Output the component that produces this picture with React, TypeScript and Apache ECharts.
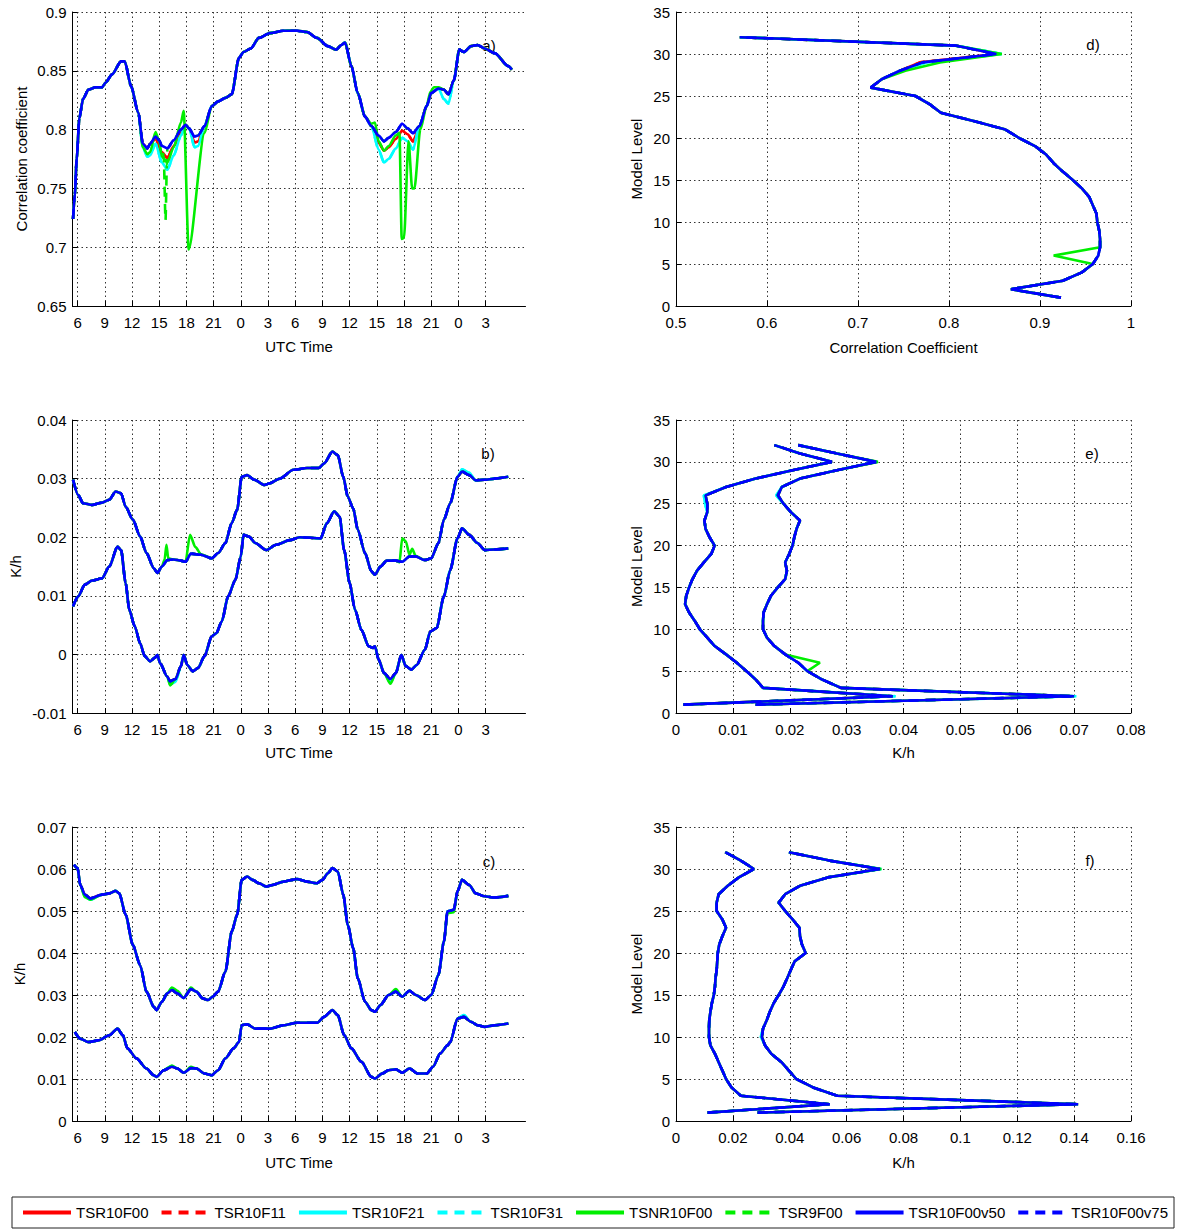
import React, { useEffect, useRef } from "react";
import * as echarts from "echarts";

type Pt = [number, number];

const FONT = "'Liberation Sans', Arial, Helvetica, sans-serif";

// ---------- series identity ----------
const SERIES_NAMES = ["TSR10F00", "TSR10F11", "TSR10F21", "TSR10F31", "TSNR10F00", "TSR9F00", "TSR10F00v50", "TSR10F00v75"];
const SERIES_COLORS = ["#ff0000", "#ff0000", "#00ffff", "#00ffff", "#00ee00", "#00ee00", "#0000ff", "#0000ff"];
const SERIES_DASHED = [false, true, false, true, false, true, false, true];

// ---------- axes ----------
const TIME_TICKS = [6, 9, 12, 15, 18, 21, 24, 27, 30, 33, 36, 39, 42, 45, 48, 51];
const TIME_TICK_LABELS = ["6", "9", "12", "15", "18", "21", "0", "3", "6", "9", "12", "15", "18", "21", "0", "3"];
const LEVELS = [1, 2, 3, 4, 5, 6, 7, 8, 9, 10, 11, 12, 13, 14, 15, 16, 17, 18, 19, 20, 21, 22, 23, 24, 25, 26, 27, 28, 29, 30, 31, 32];

// ---------- panel a: correlation coefficient vs time ----------
const A_BLUE: Pt[] = [
  [5.5, 0.724], [5.7, 0.745], [5.9, 0.775], [6.2, 0.81], [6.6, 0.826], [7.2, 0.834], [8.0, 0.836], [8.7, 0.836],
  [9.1, 0.84], [9.8, 0.847], [10.8, 0.858], [11.2, 0.858], [11.9, 0.837], [12.7, 0.814], [13.2, 0.788], [13.7, 0.784],
  [14.0, 0.788], [14.6, 0.794], [15.0, 0.791], [15.3, 0.786], [15.9, 0.784], [16.6, 0.791], [17.4, 0.8], [17.9, 0.804],
  [18.3, 0.801], [18.9, 0.794], [19.3, 0.795], [20.0, 0.803], [20.8, 0.82], [21.5, 0.824], [22.3, 0.827], [23.0, 0.83],
  [23.8, 0.861], [24.3, 0.866], [25.1, 0.869], [26.0, 0.878], [27.2, 0.882], [28.7, 0.884], [30.2, 0.884], [31.3, 0.883],
  [32.4, 0.878], [33.6, 0.871], [34.5, 0.868], [35.1, 0.872], [35.5, 0.874], [36.2, 0.854], [36.9, 0.831], [37.7, 0.811],
  [38.4, 0.803], [39.2, 0.795], [39.8, 0.79], [40.3, 0.793], [41.1, 0.798], [41.8, 0.805], [42.4, 0.801], [43.0, 0.797],
  [43.7, 0.803], [44.5, 0.82], [45.0, 0.831], [45.8, 0.835], [46.4, 0.834], [46.9, 0.83], [47.5, 0.842], [48.1, 0.868],
  [48.6, 0.866], [49.4, 0.871], [50.1, 0.872], [50.9, 0.869], [52.0, 0.865], [53.5, 0.854], [53.9, 0.851],
];
const A_RED_SEGS: Pt[][] = [
  [[14.6, 0.792], [15.3, 0.781], [15.9, 0.776], [16.6, 0.786], [17.4, 0.797]],
  [[18.9, 0.789], [19.3, 0.79]],
  [[39.2, 0.789], [39.8, 0.782], [40.3, 0.785], [41.1, 0.792], [41.8, 0.799], [42.4, 0.796], [43.0, 0.79]],
];
const A_CYAN_SEGS: Pt[][] = [
  [[13.2, 0.785], [13.7, 0.777], [14.0, 0.778], [14.6, 0.788], [15.3, 0.772], [15.9, 0.766], [16.6, 0.778], [17.4, 0.795]],
  [[18.9, 0.785], [19.3, 0.786]],
  [[39.2, 0.783], [39.8, 0.772], [40.3, 0.775], [41.1, 0.784], [41.8, 0.793], [42.4, 0.79], [43.0, 0.783]],
  [[46.4, 0.826], [46.9, 0.822]],
];
const A_GREEN_SEGS: Pt[][] = [
  [[13.2, 0.785], [13.7, 0.779], [14.0, 0.781], [14.6, 0.798], [15.0, 0.79], [15.3, 0.777], [15.9, 0.772], [16.6, 0.785]],
  [[17.4, 0.806], [17.7, 0.816], [18.25, 0.698], [20.0, 0.797]],
  [[38.4, 0.805], [38.8, 0.806], [39.2, 0.79], [39.8, 0.782], [40.3, 0.786], [41.1, 0.795]],
  [[41.5, 0.797], [41.75, 0.707], [42.0, 0.708], [42.5, 0.79], [42.9, 0.75], [43.15, 0.75], [43.8, 0.8]],
  [[44.9, 0.832], [45.3, 0.836], [45.8, 0.836]],
];
const A_GREEN_DASH_SEGS: Pt[][] = [
  [[15.5, 0.778], [15.7, 0.723], [15.85, 0.77]],
];

// ---------- panel b: K/h vs time (two curves) ----------
const B_UP_BLUE: Pt[] = [
  [5.5, 0.0298], [6.07, 0.0272], [6.6, 0.0258], [7.6, 0.0255], [8.7, 0.0259], [9.5, 0.0264], [10.2, 0.0278], [10.8, 0.0275],
  [11.3, 0.0252], [12.1, 0.023], [12.9, 0.0201], [13.6, 0.0173], [14.4, 0.0147], [14.8, 0.0139], [15.3, 0.015], [15.9, 0.0161],
  [16.6, 0.0162], [17.4, 0.016], [17.9, 0.0158], [18.5, 0.0172], [19.6, 0.017], [20.8, 0.0164], [21.5, 0.0173], [22.3, 0.019],
  [23.0, 0.0224], [23.6, 0.0247], [24.1, 0.0303], [24.7, 0.0306], [25.5, 0.0298], [26.6, 0.0289], [27.2, 0.0292], [28.3, 0.03],
  [29.8, 0.0315], [31.3, 0.0318], [32.6, 0.0318], [33.2, 0.0326], [34.1, 0.0346], [34.7, 0.034], [35.3, 0.0303], [35.8, 0.0269],
  [36.4, 0.0249], [36.9, 0.0213], [37.7, 0.0173], [38.4, 0.0142], [38.8, 0.0136], [39.4, 0.015], [40.1, 0.016], [41.1, 0.016],
  [41.8, 0.0158], [42.6, 0.0167], [43.3, 0.0167], [44.3, 0.0161], [45.0, 0.0164], [45.8, 0.019], [46.4, 0.023], [47.1, 0.0258],
  [47.9, 0.0303], [48.4, 0.0312], [49.2, 0.0306], [49.9, 0.0297], [50.9, 0.0298], [52.0, 0.03], [53.5, 0.0303],
];
const B_LOW_BLUE: Pt[] = [
  [5.5, 0.0082], [6.07, 0.0099], [6.8, 0.0119], [7.6, 0.0126], [8.7, 0.013], [9.5, 0.015], [10.4, 0.0184], [10.8, 0.0178],
  [11.3, 0.0122], [11.7, 0.0076], [12.3, 0.0048], [12.9, 0.0019], [13.4, -0.0003], [14.0, -0.0012], [14.5, -0.0006], [14.8, -0.0001],
  [15.1, -0.0015], [15.9, -0.0038], [16.2, -0.0046], [16.8, -0.0042], [17.4, -0.002], [17.7, -0.0001], [18.1, -0.0018], [18.7, -0.0029],
  [19.3, -0.0023], [20.0, -0.0003], [20.8, 0.0031], [21.3, 0.0036], [21.9, 0.0056], [22.6, 0.0099], [23.4, 0.0127], [24.0, 0.0167],
  [24.3, 0.0204], [24.9, 0.0201], [25.6, 0.019], [26.8, 0.0178], [27.9, 0.0187], [29.4, 0.0195], [30.5, 0.02], [32.8, 0.0198],
  [33.5, 0.0224], [34.3, 0.0244], [34.9, 0.0235], [35.4, 0.0178], [36.0, 0.0122], [36.6, 0.0076], [37.3, 0.0042], [38.1, 0.0014],
  [38.6, 0.0011], [38.8, 0.0014], [39.2, -0.0009], [39.8, -0.0032], [40.5, -0.0042], [41.1, -0.0032], [41.7, -0.0001], [42.2, -0.002],
  [42.8, -0.0026], [43.4, -0.0018], [44.3, 0.0008], [44.9, 0.0039], [45.6, 0.0045], [46.4, 0.0099], [47.1, 0.0144], [47.9, 0.0198],
  [48.4, 0.0215], [49.2, 0.0204], [50.1, 0.019], [50.9, 0.0178], [52.0, 0.0179], [53.5, 0.0181],
];
const B_UP_GREEN_SEGS: Pt[][] = [
  [[15.6, 0.0162], [15.8, 0.0187], [16.0, 0.0164]],
  [[17.9, 0.0158], [18.4, 0.0204], [19.0, 0.0183], [19.6, 0.0171]],
  [[41.5, 0.0157], [41.8, 0.0198], [42.2, 0.0193], [42.6, 0.017], [42.9, 0.018], [43.3, 0.0168]],
];
const B_UP_CYAN_SEGS: Pt[][] = [[[48.4, 0.0316], [49.2, 0.031]]];
const B_LOW_GREEN_SEGS: Pt[][] = [[[16.2, -0.0053]], [[40.5, -0.005]]];
const B_LOW_CYAN_SEGS: Pt[][] = [[[16.2, -0.0051], [16.8, -0.0047]], [[40.5, -0.0048]]];

// ---------- panel c: K/h vs time (two curves) ----------
const C_UP_BLUE: Pt[] = [
  [5.6, 0.061], [6.0, 0.0602], [6.3, 0.0562], [6.8, 0.0539], [7.4, 0.053], [8.7, 0.0539], [9.5, 0.0542], [10.2, 0.0548],
  [10.6, 0.0542], [11.3, 0.0491], [12.1, 0.0419], [12.9, 0.0371], [13.6, 0.0308], [14.4, 0.0272], [14.7, 0.0264], [15.3, 0.0284],
  [15.9, 0.0304], [16.4, 0.0312], [17.0, 0.0304], [17.7, 0.0293], [18.5, 0.0314], [19.1, 0.0308], [19.8, 0.0292], [20.4, 0.0288],
  [20.9, 0.0296], [21.5, 0.0308], [22.3, 0.0356], [23.0, 0.0451], [23.6, 0.0491], [24.1, 0.0574], [24.7, 0.0582], [25.3, 0.0574],
  [26.0, 0.0566], [26.8, 0.0558], [27.5, 0.0562], [28.7, 0.057], [30.2, 0.0576], [31.3, 0.057], [32.4, 0.0566], [33.0, 0.0574],
  [33.6, 0.059], [34.1, 0.0602], [34.7, 0.0594], [35.3, 0.0539], [35.8, 0.0467], [36.4, 0.0411], [36.9, 0.034], [37.7, 0.0284],
  [38.4, 0.0264], [38.8, 0.026], [39.4, 0.0276], [40.3, 0.03], [41.1, 0.0308], [41.8, 0.0296], [42.6, 0.031], [43.3, 0.03],
  [44.3, 0.0288], [45.0, 0.03], [45.8, 0.0348], [46.4, 0.0427], [46.8, 0.0499], [47.5, 0.0503], [47.9, 0.0547], [48.4, 0.0574],
  [49.2, 0.0562], [49.9, 0.0542], [50.9, 0.0535], [52.0, 0.0532], [53.5, 0.0536],
];
const C_LOW_BLUE: Pt[] = [
  [5.7, 0.0212], [6.3, 0.0196], [7.2, 0.0188], [8.3, 0.0192], [9.5, 0.0204], [10.4, 0.022], [11.0, 0.0204], [11.5, 0.0173],
  [12.5, 0.0149], [13.6, 0.0125], [14.4, 0.0109], [14.7, 0.0105], [15.5, 0.0121], [16.4, 0.0129], [17.0, 0.0125], [17.7, 0.0115],
  [18.5, 0.0126], [19.1, 0.0125], [20.0, 0.0113], [20.8, 0.0109], [21.5, 0.0121], [22.3, 0.0149], [23.2, 0.0173], [23.8, 0.0188],
  [24.1, 0.0228], [24.7, 0.023], [25.6, 0.022], [27.2, 0.022], [28.7, 0.0228], [30.2, 0.0234], [32.4, 0.0234], [33.2, 0.0248],
  [34.1, 0.0264], [34.7, 0.0252], [35.4, 0.0204], [36.2, 0.0173], [37.3, 0.0141], [38.4, 0.0105], [38.8, 0.0101], [39.6, 0.0113],
  [40.3, 0.0121], [41.1, 0.0123], [41.8, 0.0115], [42.6, 0.0125], [43.5, 0.0113], [44.5, 0.0113], [45.2, 0.0129], [46.0, 0.0161],
  [46.8, 0.018], [47.1, 0.0188], [47.9, 0.0244], [48.6, 0.0248], [49.4, 0.0236], [50.1, 0.0228], [50.9, 0.0224], [52.0, 0.0228],
  [53.5, 0.0232],
];
const C_UP_GREEN_SEGS: Pt[][] = [
  [[16.4, 0.0318], [17.0, 0.031]], [[18.5, 0.0318]], [[41.1, 0.0314]], [[46.8, 0.0495], [47.5, 0.0497]], [[6.8, 0.0533], [7.4, 0.0527]],
];
const C_UP_CYAN_SEGS: Pt[][] = [[[6.8, 0.0535], [7.4, 0.0527]], [[16.4, 0.0316]]];
const C_LOW_GREEN_SEGS: Pt[][] = [[[16.4, 0.0132]], [[18.5, 0.0129]]];
const C_LOW_CYAN_SEGS: Pt[][] = [[[48.6, 0.0252]], [[16.4, 0.0131]]];

// ---------- panel d: correlation coefficient profile (x value per level 1..32) ----------
const D_BLUE = [
  0.923, 0.868, 0.925, 0.946, 0.958, 0.964, 0.966, 0.966, 0.965, 0.963, 0.962, 0.958, 0.954, 0.946, 0.936, 0.925,
  0.915, 0.907, 0.895, 0.877, 0.862, 0.828, 0.791, 0.779, 0.763, 0.714, 0.726, 0.746, 0.771, 0.852, 0.807, 0.57,
];
const D_RED_OVR: Record<number, number> = { 29: 0.768 };
const D_CYAN_OVR: Record<number, number> = { 30: 0.858, 29: 0.775 };
const D_GREEN_OVR: Record<number, number> = { 6: 0.915, 28: 0.752, 29: 0.79, 30: 0.858 };

// ---------- panel e: K/h profiles ----------
const E_LEFT_BLUE = [
  0.0013, 0.0381, 0.0153, 0.014, 0.0124, 0.0107, 0.0088, 0.0068, 0.0055, 0.0042, 0.0033, 0.0023, 0.0016, 0.0018, 0.0023, 0.0029,
  0.0037, 0.0049, 0.0062, 0.0068, 0.0059, 0.0052, 0.005, 0.0055, 0.0055, 0.0052, 0.0088, 0.014, 0.0205, 0.0274, 0.0218, 0.0173,
];
const E_RIGHT_BLUE = [
  0.014, 0.07, 0.029, 0.0257, 0.0231, 0.0215, 0.0192, 0.0173, 0.016, 0.0153, 0.0153, 0.0154, 0.016, 0.0167, 0.0179, 0.0192,
  0.0195, 0.0192, 0.0199, 0.0205, 0.0208, 0.0212, 0.0218, 0.0202, 0.0189, 0.0179, 0.0186, 0.0218, 0.0283, 0.0352, 0.0283, 0.0215,
];
const E_LEFT_CYAN_OVR: Record<number, number> = { 2: 0.0386, 25: 0.0051, 26: 0.0049 };
const E_RIGHT_CYAN_OVR: Record<number, number> = { 2: 0.0704, 26: 0.0176 };
const E_RIGHT_GREEN_OVR: Record<number, number> = { 6: 0.0253, 30: 0.0355 };

// ---------- panel f: K/h profiles ----------
const F_LEFT_BLUE = [
  0.0111, 0.054, 0.0228, 0.0195, 0.0176, 0.0163, 0.015, 0.0137, 0.0121, 0.0116, 0.0116, 0.0117, 0.0121, 0.0126, 0.0133, 0.0137,
  0.0139, 0.0143, 0.0145, 0.0147, 0.0152, 0.0163, 0.0176, 0.0163, 0.0143, 0.0143, 0.015, 0.0182, 0.0221, 0.0274, 0.0228, 0.0173,
];
const F_RIGHT_BLUE = [
  0.0287, 0.1414, 0.0567, 0.0482, 0.0423, 0.0397, 0.0371, 0.0335, 0.0313, 0.0302, 0.0306, 0.0319, 0.033, 0.0343, 0.0361, 0.0378,
  0.0391, 0.0404, 0.0417, 0.0456, 0.0443, 0.0436, 0.0434, 0.041, 0.0384, 0.0361, 0.0384, 0.0436, 0.0534, 0.0717, 0.054, 0.0397,
];
const F_RIGHT_CYAN_OVR: Record<number, number> = { 30: 0.0722, 10: 0.0298 };
const F_RIGHT_GREEN_OVR: Record<number, number> = { 30: 0.0722 };

// ---------- helpers ----------
function withSegments(base: Pt[], segs: Pt[][]): Pt[] {
  let pts: Pt[] = base.slice();
  for (const seg of segs) {
    const lo = Math.min(...seg.map((p) => p[0]));
    const hi = Math.max(...seg.map((p) => p[0]));
    pts = pts.filter((p) => p[0] < lo || p[0] > hi).concat(seg);
  }
  return pts.sort((a, b) => a[0] - b[0]);
}

function profile(xs: number[], ovr: Record<number, number> = {}): Pt[] {
  return LEVELS.map((lv, i) => [ovr[lv] !== undefined ? ovr[lv] : xs[i], lv] as Pt);
}

// variants order follows SERIES_NAMES
function timeVariants(base: Pt[], red: Pt[][], cyan: Pt[][], green: Pt[][], greenDash: Pt[][]): Pt[][] {
  return [
    withSegments(base, red), withSegments(base, red),
    withSegments(base, cyan), withSegments(base, cyan),
    withSegments(base, green), withSegments(base, greenDash),
    base, base,
  ];
}
function profileVariants(xs: number[], red: Record<number, number>, cyan: Record<number, number>, green: Record<number, number>): Pt[][] {
  return [
    profile(xs, red), profile(xs, red),
    profile(xs, cyan), profile(xs, cyan),
    profile(xs, green), profile(xs),
    profile(xs), profile(xs),
  ];
}

function makeSeries(axisIndex: number, variants: Pt[][], smooth: number) {
  return variants.map((data, i) => ({
    type: "line",
    name: SERIES_NAMES[i],
    xAxisIndex: axisIndex,
    yAxisIndex: axisIndex,
    data,
    symbol: "none",
    showSymbol: false,
    silent: true,
    clip: true,
    smooth,
    smoothMonotone: smooth ? "x" : undefined,
    lineStyle: { color: SERIES_COLORS[i], width: 2.6, type: SERIES_DASHED[i] ? [10, 7] : "solid" },
    itemStyle: { color: SERIES_COLORS[i] },
  }));
}

const GRIDS = [
  { left: 72.5, top: 12, width: 453, height: 294 }, // a
  { left: 676, top: 12, width: 455, height: 294 }, // d
  { left: 72.5, top: 420, width: 453, height: 293 }, // b
  { left: 676, top: 420, width: 455, height: 293 }, // e
  { left: 72.5, top: 827, width: 453, height: 294 }, // c
  { left: 676, top: 827, width: 455, height: 294 }, // f
];

const axisBase = {
  type: "value",
  axisLine: { show: true, onZero: false, lineStyle: { color: "#000", width: 1 } },
  axisTick: { show: true, inside: true, length: 5, lineStyle: { color: "#000" } },
  axisLabel: { color: "#000", fontSize: 15, fontFamily: FONT, margin: 6 },
  splitLine: { show: true, lineStyle: { color: "#333", width: 1, type: [1.5, 3] } },
  nameLocation: "middle",
  nameTextStyle: { color: "#000", fontSize: 15, fontFamily: FONT },
};

function timeAxis(gridIndex: number, nameGap: number) {
  return {
    ...axisBase,
    gridIndex,
    min: 5.44,
    max: 55.4,
    name: "UTC Time",
    nameGap,
    axisTick: { ...axisBase.axisTick, customValues: TIME_TICKS },
    axisLabel: {
      ...axisBase.axisLabel,
      margin: 9,
      customValues: TIME_TICKS,
      formatter: (v: number) => {
        const idx = TIME_TICKS.indexOf(Math.round(v));
        return idx >= 0 ? TIME_TICK_LABELS[idx] : "";
      },
    },
  };
}

function valAxis(gridIndex: number, min: number, max: number, interval: number, name: string, nameGap: number, labelMargin = 6) {
  return {
    ...axisBase,
    gridIndex, min, max, interval, name, nameGap,
    axisLabel: { ...axisBase.axisLabel, margin: labelMargin },
  };
}

function buildOption() {
  const series = [
    ...makeSeries(0, timeVariants(A_BLUE, A_RED_SEGS, A_CYAN_SEGS, A_GREEN_SEGS, A_GREEN_DASH_SEGS), 0.25),
    ...makeSeries(1, profileVariants(D_BLUE, D_RED_OVR, D_CYAN_OVR, D_GREEN_OVR), 0),
    ...makeSeries(2, timeVariants(B_UP_BLUE, [], B_UP_CYAN_SEGS, B_UP_GREEN_SEGS, []), 0.25),
    ...makeSeries(2, timeVariants(B_LOW_BLUE, [], B_LOW_CYAN_SEGS, B_LOW_GREEN_SEGS, []), 0.25),
    ...makeSeries(3, profileVariants(E_LEFT_BLUE, {}, E_LEFT_CYAN_OVR, {}), 0),
    ...makeSeries(3, profileVariants(E_RIGHT_BLUE, {}, E_RIGHT_CYAN_OVR, E_RIGHT_GREEN_OVR), 0),
    ...makeSeries(4, timeVariants(C_UP_BLUE, [], C_UP_CYAN_SEGS, C_UP_GREEN_SEGS, []), 0.25),
    ...makeSeries(4, timeVariants(C_LOW_BLUE, [], C_LOW_CYAN_SEGS, C_LOW_GREEN_SEGS, []), 0.25),
    ...makeSeries(5, profileVariants(F_LEFT_BLUE, {}, {}, {}), 0),
    ...makeSeries(5, profileVariants(F_RIGHT_BLUE, {}, F_RIGHT_CYAN_OVR, F_RIGHT_GREEN_OVR), 0),
  ];

  const panelLabels = [
    { t: "a)", x: 489, y: 45 },
    { t: "d)", x: 1093, y: 44 },
    { t: "b)", x: 488, y: 453 },
    { t: "e)", x: 1092, y: 453 },
    { t: "c)", x: 489, y: 861 },
    { t: "f)", x: 1090, y: 860 },
  ];

  return {
    animation: false,
    backgroundColor: "#ffffff",
    grid: GRIDS.map((g) => ({ ...g, containLabel: false })),
    xAxis: [
      timeAxis(0, 33),
      valAxis(1, 0.5, 1, 0.1, "Correlation Coefficient", 34, 9),
      timeAxis(2, 32),
      valAxis(3, 0, 0.08, 0.01, "K/h", 32, 9),
      timeAxis(4, 34),
      valAxis(5, 0, 0.16, 0.02, "K/h", 34, 9),
    ],
    yAxis: [
      valAxis(0, 0.65, 0.9, 0.05, "Correlation coefficient", 44),
      valAxis(1, 0, 35, 5, "Model Level", 32),
      valAxis(2, -0.01, 0.04, 0.01, "K/h", 50),
      valAxis(3, 0, 35, 5, "Model Level", 32),
      valAxis(4, 0, 0.07, 0.01, "K/h", 46),
      valAxis(5, 0, 35, 5, "Model Level", 32),
    ],
    legend: {
      data: SERIES_NAMES,
      left: 12,
      top: 1197,
      width: 1168,
      orient: "horizontal",
      itemWidth: 48,
      itemHeight: 15,
      itemGap: 11,
      padding: [8, 6, 8, 9],
      borderColor: "#222",
      borderWidth: 1,
      selectedMode: false,
      textStyle: { fontSize: 15, fontFamily: FONT, color: "#000" },
      lineStyle: { width: 4 },
      itemStyle: { opacity: 0 },
    },
    graphic: panelLabels.map((p) => ({
      type: "text",
      x: p.x,
      y: p.y,
      silent: true,
      style: { text: p.t, fill: "#000", font: `15px ${FONT}`, textAlign: "center", textVerticalAlign: "middle" },
    })),
    series,
  };
}

export default function App() {
  const ref = useRef<HTMLDivElement>(null);
  useEffect(() => {
    if (!ref.current) return;
    const chart = echarts.init(ref.current, null, { renderer: "svg" });
    chart.setOption(buildOption() as any);
    return () => chart.dispose();
  }, []);
  return (
    <div
      ref={ref}
      style={{ position: "absolute", left: 0, top: 0, width: 1185, height: 1231, background: "#fff" }}
    />
  );
}
